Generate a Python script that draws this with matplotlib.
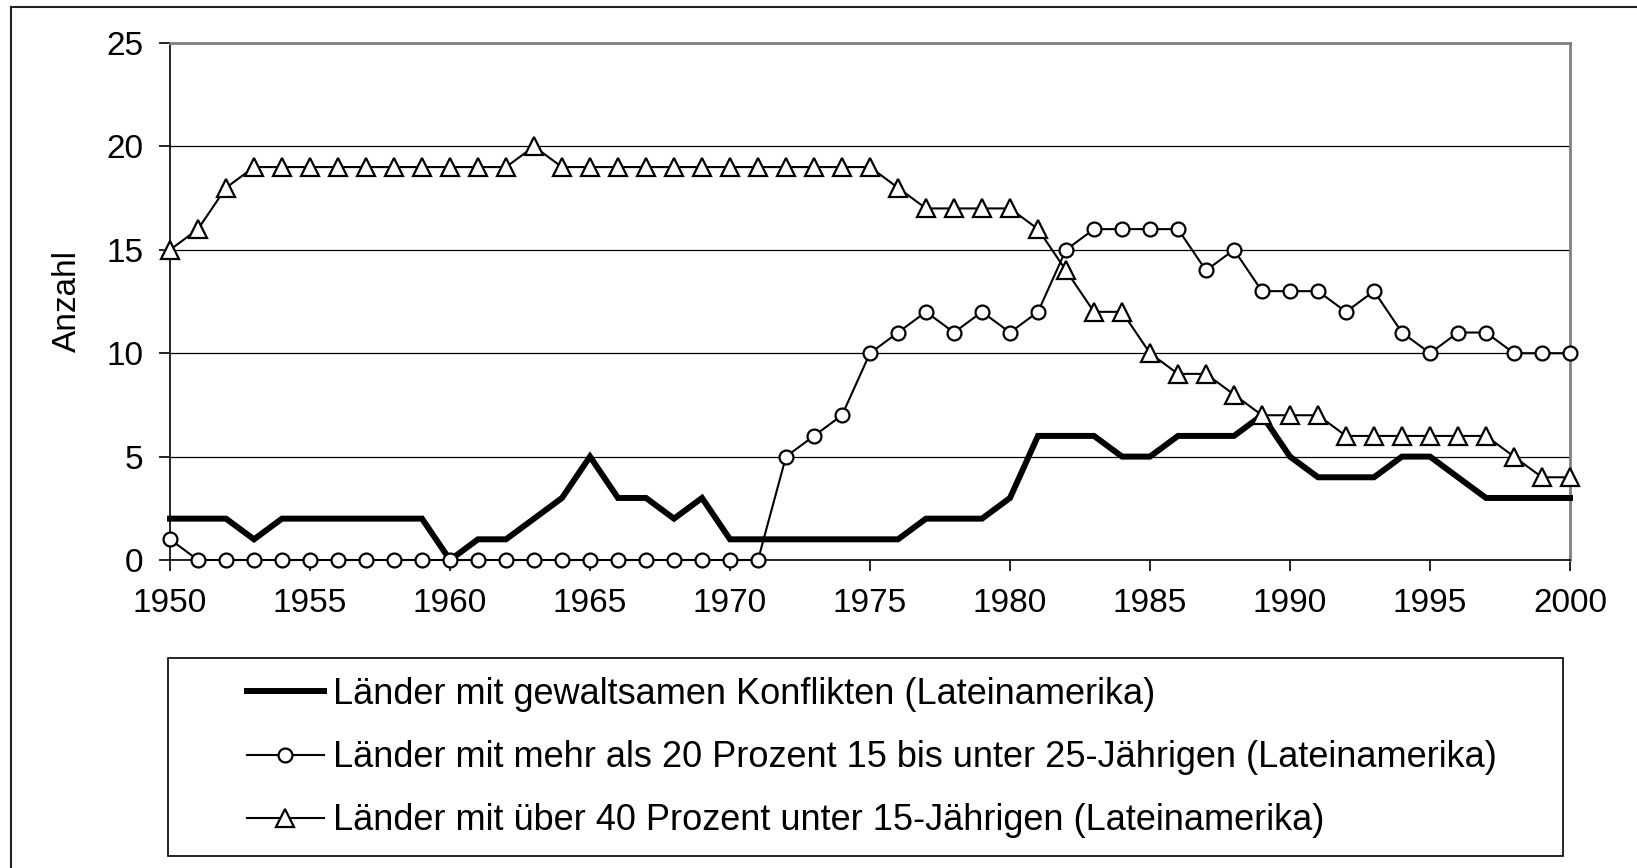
import matplotlib
matplotlib.use("Agg")
import matplotlib.pyplot as plt
from matplotlib.lines import Line2D
from matplotlib.patches import Rectangle

plt.rcParams['font.family'] = ['Liberation Sans', 'DejaVu Sans']

# Jahre 1950 bis 2000
years = list(range(1950, 2001))

konflikte = [2, 2, 2, 1, 2, 2, 2, 2, 2, 2,
             0, 1, 1, 2, 3, 5, 3, 3, 2, 3,
             1, 1, 1, 1, 1, 1, 1, 2, 2, 2,
             3, 6, 6, 6, 5, 5, 6, 6, 6, 7,
             5, 4, 4, 4, 5, 5, 4, 3, 3, 3,
             3]

jugend_15_25 = [1, 0, 0, 0, 0, 0, 0, 0, 0, 0,
                0, 0, 0, 0, 0, 0, 0, 0, 0, 0,
                0, 0, 5, 6, 7, 10, 11, 12, 11, 12,
                11, 12, 15, 16, 16, 16, 16, 14, 15, 13,
                13, 13, 12, 13, 11, 10, 11, 11, 10, 10,
                10]

unter_15 = [15, 16, 18, 19, 19, 19, 19, 19, 19, 19,
            19, 19, 19, 20, 19, 19, 19, 19, 19, 19,
            19, 19, 19, 19, 19, 19, 18, 17, 17, 17,
            17, 16, 14, 12, 12, 10, 9, 9, 8, 7,
            7, 7, 6, 6, 6, 6, 6, 6, 5, 4,
            4]

labels = ["Länder mit gewaltsamen Konflikten (Lateinamerika)",
          "Länder mit mehr als 20 Prozent 15 bis unter 25-Jährigen (Lateinamerika)",
          "Länder mit über 40 Prozent unter 15-Jährigen (Lateinamerika)"]

W, H = 1637, 868
fig = plt.figure(figsize=(W / 100, H / 100), dpi=100)
ax = fig.add_axes([170 / W, 1 - 560 / H, 1400 / W, 517 / H])

ax.plot(years, konflikte, color='black', lw=4.3, solid_joinstyle='miter',
        label=labels[0], zorder=3, clip_on=False)
ax.plot(years, jugend_15_25, color='black', lw=1.5, marker='o', ms=10,
        mfc='white', mec='black', mew=1.6, label=labels[1], zorder=4,
        clip_on=False)
ax.plot(years, unter_15, color='black', lw=1.5, marker='^', ms=13,
        mfc='white', mec='black', mew=1.6, label=labels[2], zorder=4,
        clip_on=False)

ax.set_xlim(1950, 2000)
ax.set_ylim(0, 25)
ax.set_xticks(range(1950, 2001, 5))
ax.set_yticks(range(0, 26, 5))
ax.yaxis.grid(True, color='black', lw=0.9)
ax.set_axisbelow(True)
ax.tick_params(axis='both', direction='out', length=8, width=1.2,
               labelsize=24, color='black')
ax.tick_params(axis='y', pad=11)
ax.tick_params(axis='x', pad=12)
for s in ['left', 'bottom']:
    ax.spines[s].set_color('black')
    ax.spines[s].set_linewidth(1.2)
for s in ['top', 'right']:
    ax.spines[s].set_color('#808080')
    ax.spines[s].set_linewidth(2)
ax.set_ylabel("Anzahl", fontsize=24, labelpad=17)

# Legendenrahmen
fig.patches.append(Rectangle((168 / W, 1 - 856 / H), (1563 - 168) / W, (856 - 658) / H,
                             transform=fig.transFigure, fill=False,
                             edgecolor='black', lw=1.2))
fig.legend(loc='upper left', bbox_to_anchor=(247 / W, 1 - 677 / H),
           frameon=False, fontsize=26, borderpad=0, borderaxespad=0,
           handlelength=2.13, handletextpad=0.25, labelspacing=0.78)

# äußerer Rahmen (oben und links)
fig.lines.append(Line2D([11 / W, 1], [1 - 7 / H, 1 - 7 / H],
                        transform=fig.transFigure, color='#222222', lw=1.5))
fig.lines.append(Line2D([11 / W, 11 / W], [0, 1 - 7 / H],
                        transform=fig.transFigure, color='#222222', lw=1.5))

fig.savefig("out.png", dpi=100, facecolor='white')
